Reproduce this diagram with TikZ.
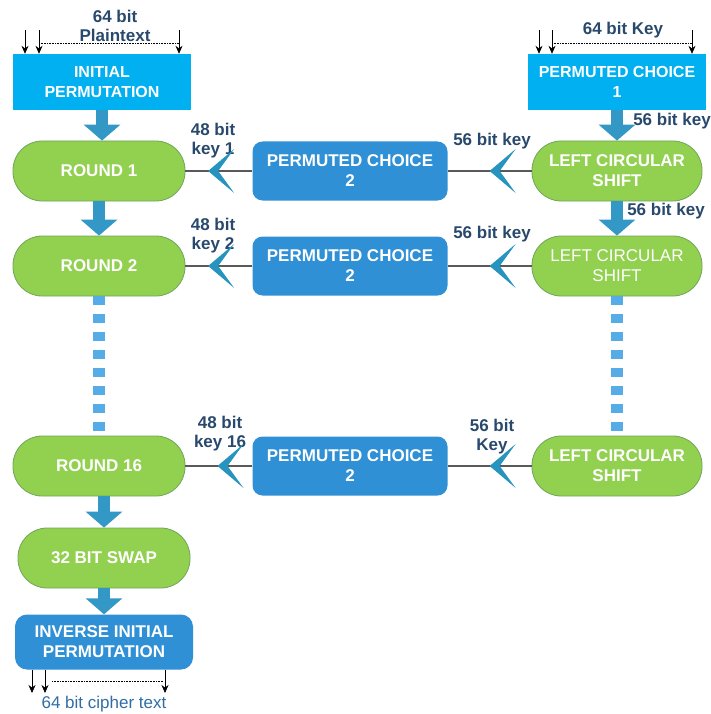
\documentclass[tikz,border=0pt]{standalone}
\usepackage{fontspec}
\setmainfont{Liberation Sans}
\usetikzlibrary{arrows.meta,decorations.markings}

\definecolor{pcyan}{RGB}{0,176,240}
\definecolor{pgreen}{RGB}{146,208,80}
\definecolor{pgreenline}{RGB}{112,165,90}
\definecolor{pblue}{RGB}{47,144,214}
\definecolor{parrow}{RGB}{52,152,198}
\definecolor{pchev}{RGB}{38,148,190}
\definecolor{pdots}{RGB}{86,172,230}
\definecolor{plabel}{RGB}{40,72,108}
\definecolor{pcipher}{RGB}{47,110,165}

\begin{document}
\begin{tikzpicture}[x=1pt, y=-1pt,
    box_font/.style={font=\bfseries\fontsize{17}{20}\selectfont, text=white, align=center, inner sep=2pt},
    cyan_box/.style={box_font, fill=pcyan, minimum width=178pt, minimum height=56pt,
                     font=\bfseries\fontsize{16}{20}\selectfont},
    green_box/.style={box_font, fill=pgreen, draw=pgreenline, line width=0.8pt,
                      rounded corners=29pt, minimum width=172pt, minimum height=60pt},
    blue_box/.style={box_font, fill=pblue, rounded corners=10pt, minimum width=195pt, minimum height=59pt},
    label_style/.style={font=\bfseries\fontsize{17}{19}\selectfont, text=plabel, align=center, inner sep=0pt},
    thick_arrow/.style={draw=parrow, line width=12pt, -{Triangle[length=16pt,width=36pt]}},
    key_edge/.style={draw=black!65, line width=1.1pt,
                     decoration={markings, mark=at position #1 with
                       {\arrow{Stealth[length=26pt,width=44pt,inset=16pt,color=pchev]}}},
                     postaction={decorate}},
    dash_col/.style={draw=pdots, line width=12pt, dash pattern=on 9pt off 9pt},
    small_arrow/.style={-{Stealth[length=8pt,width=7pt]}, line width=0.7pt},
    dot_line/.style={densely dotted, line width=0.6pt}
   ]
   \useasboundingbox (0,0) rectangle (710,714);

   % left column
   \node[cyan_box] (ip) at (102,82) {INITIAL\\PERMUTATION};
   \node[green_box] (r1) at (99,171) {ROUND 1};
   \node[green_box] (r2) at (99,266) {ROUND 2};
   \node[green_box] (r16) at (99,466) {ROUND 16};
   \node[green_box] (swap) at (104,558) {32 BIT SWAP};
   \node[blue_box, minimum width=178pt, minimum height=55pt, rounded corners=12pt] (iip) at (104,642) {INVERSE INITIAL\\PERMUTATION};

   % key schedule
   \node[cyan_box, font=\bfseries\fontsize{16}{20}\selectfont] (pcone) at (617,82) {PERMUTED CHOICE\\1};
   \node[green_box, minimum width=170pt] (lcs1) at (617,171) {LEFT CIRCULAR\\SHIFT};
   \node[green_box, minimum width=170pt, font=\fontsize{17}{20}\selectfont] (lcs2) at (617,266) {LEFT CIRCULAR\\SHIFT};
   \node[green_box, minimum width=170pt] (lcs16) at (617,466) {LEFT CIRCULAR\\SHIFT};
   \node[blue_box] (pc2a) at (350,171) {PERMUTED CHOICE\\2};
   \node[blue_box] (pc2b) at (350,266) {PERMUTED CHOICE\\2};
   \node[blue_box] (pc2c) at (350,466) {PERMUTED CHOICE\\2};

   % labels
   \node[label_style] (lplain) at (115,26) {64 bit\\Plaintext};
   \node[label_style] (lkey) at (623,30) {64 bit Key};
   \node[label_style] (lk56a) at (672,121) {56 bit key};
   \node[label_style] (lk56b) at (666,211) {56 bit key};
   \node[label_style] (lk1) at (213,141) {48 bit\\key 1};
   \node[label_style] (lk2) at (213,236) {48 bit\\key 2};
   \node[label_style] (lk16) at (220,434) {48 bit\\key 16};
   \node[label_style] (lr1) at (492,141) {56 bit key};
   \node[label_style] (lr2) at (492,234) {56 bit key};
   \node[label_style] (lr16) at (492,437) {56 bit\\Key};
   \node[font=\fontsize{17}{20}\selectfont, text=pcipher, inner sep=0pt] (lcipher) at (104,704) {64 bit cipher text};

   % data path
   \draw[thick_arrow] (ip.south) -- (ip.south |- r1.north);
   \draw[thick_arrow] (r1.south) -- (r2.north);
   \draw[dash_col] (r2.south) -- (r16.north);
   \draw[thick_arrow] (swap.north |- r16.south) -- (swap.north);
   \draw[thick_arrow] (swap.south) -- (iip.north);

   % key path
   \draw[thick_arrow] (pcone.south) -- (lcs1.north);
   \draw[thick_arrow] (lcs1.south) -- (lcs2.north);
   \draw[dash_col] (lcs2.south) -- (lcs16.north);
   \draw[key_edge=0.5] (lcs1.west) -- (pc2a.east);
   \draw[key_edge=0.5] (lcs2.west) -- (pc2b.east);
   \draw[key_edge=0.5] (lcs16.west) -- (pc2c.east);
   \draw[key_edge=0.66] (pc2a.west) -- (r1.east);
   \draw[key_edge=0.66] (pc2b.west) -- (r2.east);
   \draw[key_edge=0.52] (pc2c.west) -- (r16.east);

   % input and output bits
   \foreach \x/\n in {25/a,39/b,179/c} {
     \coordinate (ipin\n) at (\x,30);
     \draw[small_arrow] (ipin\n) -- (ipin\n |- ip.north);
   }
   \coordinate (ipda) at (39,43);
   \coordinate (ipdb) at (179,43);
   \draw[dot_line] (ipda) -- (ipdb);

   \foreach \x/\n in {539/a,552/b,692/c} {
     \coordinate (kin\n) at (\x,30);
     \draw[small_arrow] (kin\n) -- (kin\n |- pcone.north);
   }
   \coordinate (kda) at (552,43);
   \coordinate (kdb) at (692,43);
   \draw[dot_line] (kda) -- (kdb);

   \foreach \x/\n in {32/a,45/b,165/c} {
     \coordinate (out\n) at (\x,693);
     \draw[small_arrow] (out\n |- iip.south) -- (out\n);
   }
   \coordinate (oda) at (52,681);
   \coordinate (odb) at (163,681);
   \draw[dot_line] (oda) -- (odb);
\end{tikzpicture}
\end{document}
